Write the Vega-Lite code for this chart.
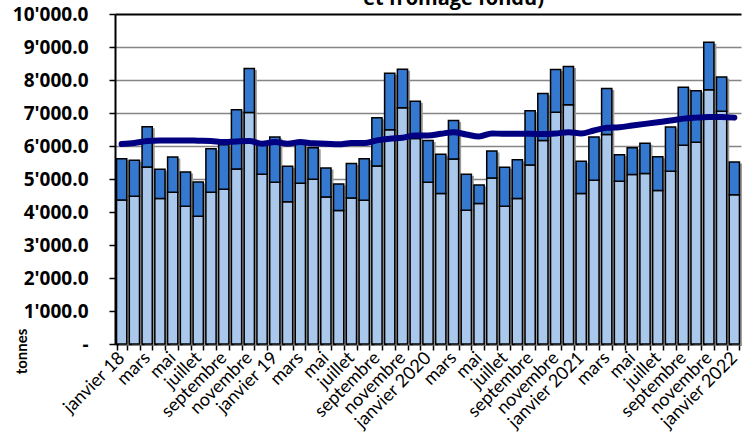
{
  "$schema": "https://vega.github.io/schema/vega-lite/v6.json",
  "autosize": "none",
  "width": 626,
  "height": 330,
  "padding": {"left": 115, "top": 14, "right": 1, "bottom": 91},
  "background": "white",
  "config": {
    "font": "Lato",
    "view": {"stroke": null},
    "axis": {"labelColor": "black", "titleColor": "black"}
  },
  "data": {
    "values": [
      {"mois": "janvier 18", "partie": 4360, "total": 5617, "moyenne": 6060},
      {"mois": "février 18", "partie": 4480, "total": 5566, "moyenne": 6090},
      {"mois": "mars 18", "partie": 5365, "total": 6583, "moyenne": 6150},
      {"mois": "avril 18", "partie": 4408, "total": 5294, "moyenne": 6170},
      {"mois": "mai 18", "partie": 4600, "total": 5667, "moyenne": 6170},
      {"mois": "juin 18", "partie": 4176, "total": 5214, "moyenne": 6170},
      {"mois": "juillet 18", "partie": 3874, "total": 4912, "moyenne": 6160},
      {"mois": "août 18", "partie": 4600, "total": 5919, "moyenne": 6150},
      {"mois": "septembre 18", "partie": 4690, "total": 6040, "moyenne": 6120},
      {"mois": "octobre 18", "partie": 5304, "total": 7097, "moyenne": 6140},
      {"mois": "novembre 18", "partie": 7016, "total": 8345, "moyenne": 6150},
      {"mois": "décembre 18", "partie": 5143, "total": 6030, "moyenne": 6070},
      {"mois": "janvier 19", "partie": 4902, "total": 6271, "moyenne": 6120},
      {"mois": "février 19", "partie": 4307, "total": 5385, "moyenne": 6070},
      {"mois": "mars 19", "partie": 4871, "total": 6050, "moyenne": 6120},
      {"mois": "avril 19", "partie": 4992, "total": 5949, "moyenne": 6080},
      {"mois": "mai 19", "partie": 4458, "total": 5334, "moyenne": 6070},
      {"mois": "juin 19", "partie": 4046, "total": 4851, "moyenne": 6050},
      {"mois": "juillet 19", "partie": 4428, "total": 5466, "moyenne": 6090},
      {"mois": "août 19", "partie": 4358, "total": 5617, "moyenne": 6090},
      {"mois": "septembre 19", "partie": 5395, "total": 6855, "moyenne": 6170},
      {"mois": "octobre 19", "partie": 6493, "total": 8204, "moyenne": 6220},
      {"mois": "novembre 19", "partie": 7157, "total": 8325, "moyenne": 6250},
      {"mois": "décembre 19", "partie": 6230, "total": 7359, "moyenne": 6320},
      {"mois": "janvier 2020", "partie": 4902, "total": 6170, "moyenne": 6320},
      {"mois": "février 2020", "partie": 4559, "total": 5747, "moyenne": 6370},
      {"mois": "mars 2020", "partie": 5607, "total": 6775, "moyenne": 6420},
      {"mois": "avril 2020", "partie": 4056, "total": 5143, "moyenne": 6350},
      {"mois": "mai 2020", "partie": 4257, "total": 4821, "moyenne": 6290},
      {"mois": "juin 2020", "partie": 5032, "total": 5848, "moyenne": 6380},
      {"mois": "juillet 2020", "partie": 4176, "total": 5355, "moyenne": 6370},
      {"mois": "août 2020", "partie": 4408, "total": 5586, "moyenne": 6370},
      {"mois": "septembre 2020", "partie": 5425, "total": 7067, "moyenne": 6370},
      {"mois": "octobre 2020", "partie": 6170, "total": 7590, "moyenne": 6360},
      {"mois": "novembre 2020", "partie": 7026, "total": 8315, "moyenne": 6380},
      {"mois": "décembre 2020", "partie": 7248, "total": 8406, "moyenne": 6420},
      {"mois": "janvier 2021", "partie": 4559, "total": 5536, "moyenne": 6380},
      {"mois": "février 2021", "partie": 4962, "total": 6271, "moyenne": 6470},
      {"mois": "mars 2021", "partie": 6352, "total": 7741, "moyenne": 6550},
      {"mois": "avril 2021", "partie": 4932, "total": 5737, "moyenne": 6570},
      {"mois": "mai 2021", "partie": 5133, "total": 5949, "moyenne": 6620},
      {"mois": "juin 2021", "partie": 5163, "total": 6080, "moyenne": 6670},
      {"mois": "juillet 2021", "partie": 4650, "total": 5677, "moyenne": 6720},
      {"mois": "août 2021", "partie": 5234, "total": 6573, "moyenne": 6770},
      {"mois": "septembre 2021", "partie": 6019, "total": 7782, "moyenne": 6830},
      {"mois": "octobre 2021", "partie": 6110, "total": 7671, "moyenne": 6860},
      {"mois": "novembre 2021", "partie": 7701, "total": 9141, "moyenne": 6880},
      {"mois": "décembre 2021", "partie": 7056, "total": 8094, "moyenne": 6880},
      {"mois": "janvier 2022", "partie": 4519, "total": 5516, "moyenne": 6860}
    ]
  },
  "encoding": {
    "x": {
      "field": "mois",
      "type": "ordinal",
      "sort": null,
      "scale": {"paddingInner": 0.2, "paddingOuter": 0.12},
      "axis": {
        "title": null,
        "labelAngle": -45,
        "labelAlign": "right",
        "labelBaseline": "middle",
        "labelFontSize": 18,
        "labelPadding": 5,
        "labelOverlap": false,
        "labelBound": false,
        "labelExpr": "test(/^janvier/, datum.label) ? datum.label : (test(/^(mars|mai|juillet|septembre|novembre) /, datum.label) ? split(datum.label, ' ')[0] : '')",
        "domainColor": "black",
        "domainWidth": 2,
        "tickColor": "black",
        "tickWidth": 1.5,
        "tickSize": 6,
        "tickBand": "extent",
        "grid": false
      }
    }
  },
  "layer": [
    {
      "mark": {"type": "bar", "color": "#9a9a9a", "xOffset": 2.5, "yOffset": 1.5},
      "encoding": {
        "y": {
          "field": "total",
          "type": "quantitative",
          "scale": {"domain": [0, 10000], "nice": false},
          "axis": {
            "title": "tonnes",
            "titleFontSize": 15,
            "titleFontWeight": "bold",
            "titleX": -94,
            "titleY": 337,
            "titleAlign": "center",
            "titleBaseline": "middle",
            "titleAngle": -90,
            "values": [0, 1000, 2000, 3000, 4000, 5000, 6000, 7000, 8000, 9000, 10000],
            "labelExpr": "datum.value == 0 ? '-' : replace(format(datum.value, ',.1f'), ',', \"'\")",
            "labelFont": "Open Sans",
            "labelFontSize": 19,
            "labelFontWeight": "bold",
            "labelPadding": 21,
            "labelOverlap": false,
            "labelBound": false,
            "domainColor": "black",
            "domainWidth": 2,
            "tickColor": "black",
            "tickWidth": 1.5,
            "tickSize": 6,
            "grid": true,
            "gridColor": {"condition": {"test": "datum.value == 10000", "value": "black"}, "value": "#858585"},
            "gridWidth": {"condition": {"test": "datum.value == 10000", "value": 2}, "value": 1.5}
          }
        }
      }
    },
    {
      "mark": {"type": "bar", "color": "#A9C8EC", "stroke": "black", "strokeWidth": 1.5},
      "encoding": {
        "y": {
          "field": "partie",
          "type": "quantitative",
          "scale": {"domain": [0, 10000], "nice": false},
          "axis": {
            "title": "tonnes",
            "titleFontSize": 15,
            "titleFontWeight": "bold",
            "titleX": -94,
            "titleY": 337,
            "titleAlign": "center",
            "titleBaseline": "middle",
            "titleAngle": -90,
            "values": [0, 1000, 2000, 3000, 4000, 5000, 6000, 7000, 8000, 9000, 10000],
            "labelExpr": "datum.value == 0 ? '-' : replace(format(datum.value, ',.1f'), ',', \"'\")",
            "labelFont": "Open Sans",
            "labelFontSize": 19,
            "labelFontWeight": "bold",
            "labelPadding": 21,
            "labelOverlap": false,
            "labelBound": false,
            "domainColor": "black",
            "domainWidth": 2,
            "tickColor": "black",
            "tickWidth": 1.5,
            "tickSize": 6,
            "grid": true,
            "gridColor": {"condition": {"test": "datum.value == 10000", "value": "black"}, "value": "#858585"},
            "gridWidth": {"condition": {"test": "datum.value == 10000", "value": 2}, "value": 1.5}
          }
        }
      }
    },
    {
      "mark": {"type": "bar", "color": "#3478CF", "stroke": "black", "strokeWidth": 1.5},
      "encoding": {
        "y": {
          "field": "partie",
          "type": "quantitative",
          "scale": {"domain": [0, 10000], "nice": false},
          "axis": {
            "title": "tonnes",
            "titleFontSize": 15,
            "titleFontWeight": "bold",
            "titleX": -94,
            "titleY": 337,
            "titleAlign": "center",
            "titleBaseline": "middle",
            "titleAngle": -90,
            "values": [0, 1000, 2000, 3000, 4000, 5000, 6000, 7000, 8000, 9000, 10000],
            "labelExpr": "datum.value == 0 ? '-' : replace(format(datum.value, ',.1f'), ',', \"'\")",
            "labelFont": "Open Sans",
            "labelFontSize": 19,
            "labelFontWeight": "bold",
            "labelPadding": 21,
            "labelOverlap": false,
            "labelBound": false,
            "domainColor": "black",
            "domainWidth": 2,
            "tickColor": "black",
            "tickWidth": 1.5,
            "tickSize": 6,
            "grid": true,
            "gridColor": {"condition": {"test": "datum.value == 10000", "value": "black"}, "value": "#858585"},
            "gridWidth": {"condition": {"test": "datum.value == 10000", "value": 2}, "value": 1.5}
          }
        },
        "y2": {"field": "total"}
      }
    },
    {
      "mark": {"type": "line", "color": "#000080", "strokeWidth": 6, "interpolate": "monotone", "strokeCap": "round"},
      "encoding": {
        "y": {
          "field": "moyenne",
          "type": "quantitative",
          "scale": {"domain": [0, 10000], "nice": false},
          "axis": {
            "title": "tonnes",
            "titleFontSize": 15,
            "titleFontWeight": "bold",
            "titleX": -94,
            "titleY": 337,
            "titleAlign": "center",
            "titleBaseline": "middle",
            "titleAngle": -90,
            "values": [0, 1000, 2000, 3000, 4000, 5000, 6000, 7000, 8000, 9000, 10000],
            "labelExpr": "datum.value == 0 ? '-' : replace(format(datum.value, ',.1f'), ',', \"'\")",
            "labelFont": "Open Sans",
            "labelFontSize": 19,
            "labelFontWeight": "bold",
            "labelPadding": 21,
            "labelOverlap": false,
            "labelBound": false,
            "domainColor": "black",
            "domainWidth": 2,
            "tickColor": "black",
            "tickWidth": 1.5,
            "tickSize": 6,
            "grid": true,
            "gridColor": {"condition": {"test": "datum.value == 10000", "value": "black"}, "value": "#858585"},
            "gridWidth": {"condition": {"test": "datum.value == 10000", "value": 2}, "value": 1.5}
          }
        }
      }
    },
    {
      "data": {"values": [{"titre": "et fromage fondu)"}]},
      "mark": {"type": "text", "font": "Open Sans", "fontSize": 20, "fontWeight": "bold", "color": "black", "align": "center", "baseline": "alphabetic", "dy": -9},
      "encoding": {
        "text": {"field": "titre"},
        "x": {"datum": "mars 2020"},
        "y": {
          "datum": 10000,
          "type": "quantitative",
          "scale": {"domain": [0, 10000], "nice": false},
          "axis": {
            "title": "tonnes",
            "titleFontSize": 15,
            "titleFontWeight": "bold",
            "titleX": -94,
            "titleY": 337,
            "titleAlign": "center",
            "titleBaseline": "middle",
            "titleAngle": -90,
            "values": [0, 1000, 2000, 3000, 4000, 5000, 6000, 7000, 8000, 9000, 10000],
            "labelExpr": "datum.value == 0 ? '-' : replace(format(datum.value, ',.1f'), ',', \"'\")",
            "labelFont": "Open Sans",
            "labelFontSize": 19,
            "labelFontWeight": "bold",
            "labelPadding": 21,
            "labelOverlap": false,
            "labelBound": false,
            "domainColor": "black",
            "domainWidth": 2,
            "tickColor": "black",
            "tickWidth": 1.5,
            "tickSize": 6,
            "grid": true,
            "gridColor": {"condition": {"test": "datum.value == 10000", "value": "black"}, "value": "#858585"},
            "gridWidth": {"condition": {"test": "datum.value == 10000", "value": 2}, "value": 1.5}
          }
        }
      }
    }
  ]
}
